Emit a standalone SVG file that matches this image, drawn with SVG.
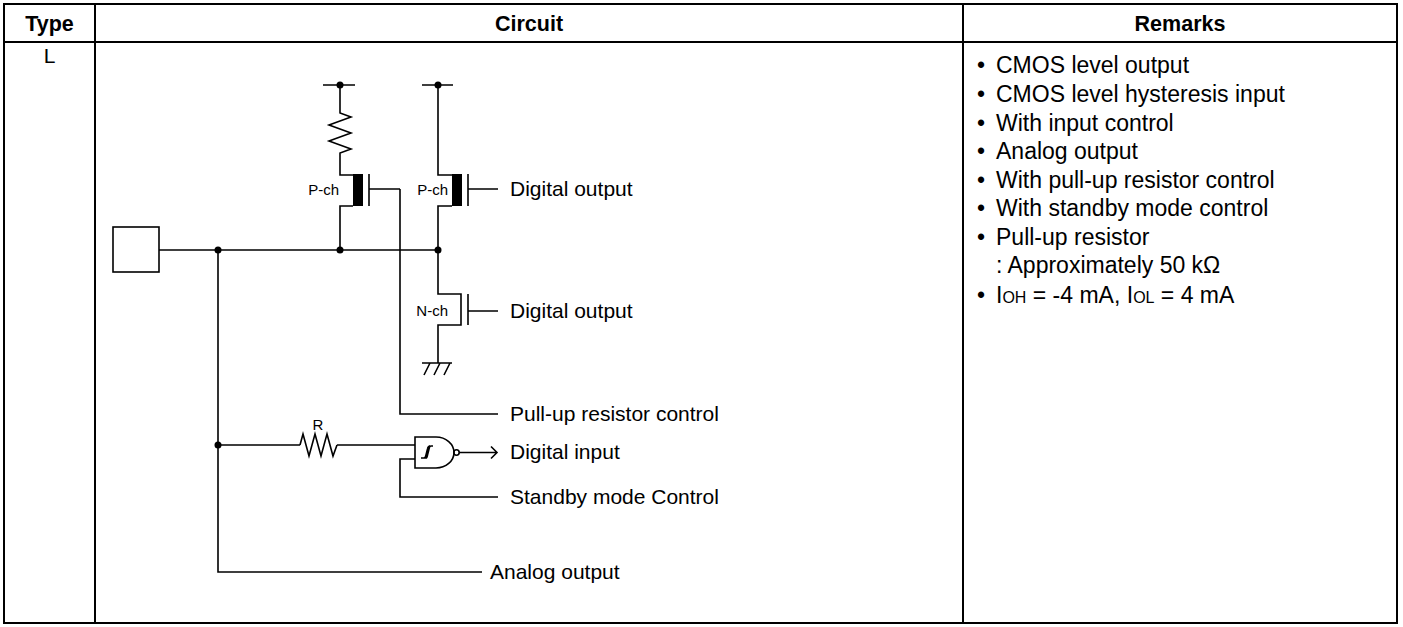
<svg xmlns="http://www.w3.org/2000/svg" width="1403" height="627" viewBox="0 0 1403 627">
<style>
.tb{fill:none;stroke:#000;stroke-width:2}
.w{fill:none;stroke:#000;stroke-width:1.6;stroke-linejoin:miter}
.d{fill:#000}
.h{font-family:"Liberation Sans",Arial,sans-serif;font-weight:bold;font-size:21.5px;fill:#000;text-anchor:middle}
.t{font-family:"Liberation Sans",Arial,sans-serif;font-size:21px;fill:#000}
.s{font-family:"Liberation Sans",Arial,sans-serif;font-size:15px;fill:#000}
.r{font-family:"Liberation Sans",Arial,sans-serif;font-size:23px;fill:#000}
.sub{font-size:16px}
</style>
<rect width="1403" height="627" fill="#fff"/>
<g id="table">
<rect class="tb" x="4" y="4" width="1393" height="619"/>
<line class="tb" x1="4" y1="42" x2="1397" y2="42"/>
<line class="tb" x1="95" y1="4" x2="95" y2="623"/>
<line class="tb" x1="963" y1="4" x2="963" y2="623"/>
<text class="h" x="49.5" y="31">Type</text>
<text class="h" x="529" y="31">Circuit</text>
<text class="h" x="1180" y="31">Remarks</text>
<text class="t" x="49.5" y="63" text-anchor="middle">L</text>
</g>
<g id="pin">
<rect class="w" x="113" y="227" width="46" height="45"/>
</g>
<g id="pullup-resistor">
<path class="w" d="M323,85 H355 M340,85 V113 L351,117 L329,125 L351,133 L329,141 L351,149 L340,153 V175 H353"/>
<circle class="d" cx="340" cy="85" r="3.5"/>
</g>
<g id="pch-pullup">
<rect class="d" x="353" y="174" width="10" height="32"/>
<path class="w" d="M353,206 H340 V250 M369,174 V206 M369,189 H400"/>
<text class="s" x="339" y="195" text-anchor="end">P-ch</text>
</g>
<g id="pch-out">
<path class="w" d="M422,85 H453 M438,85 V175 H452 M452,206 H438 V250 M468,174 V206 M468,189 H498"/>
<rect class="d" x="452" y="174" width="10" height="32"/>
<circle class="d" cx="438" cy="85" r="3.5"/>
<text class="s" x="448" y="195" text-anchor="end">P-ch</text>
<text class="t" x="510" y="196">Digital output</text>
</g>
<g id="nch-out">
<path class="w" d="M438,250 V294 H461 V325 H438 V363 M468,294 V325 M468,311 H498"/>
<text class="s" x="448" y="316" text-anchor="end">N-ch</text>
<text class="t" x="510" y="318">Digital output</text>
</g>
<g id="ground">
<path class="w" d="M422,363 H452 M430,363 L424,375 M440,363 L434,375 M450,363 L444,375"/>
</g>
<g id="resistor-r">
<path class="w" d="M300,445 L303,434 L309,456 L315,434 L321,456 L327,434 L333,456 L337,445"/>
<text class="s" x="318" y="430" text-anchor="middle">R</text>
</g>
<g id="nand-gate">
<path class="w" d="M415,437 H436 A18,15.5 0 0 1 436,468 H415 Z"/>
<circle class="w" cx="456.5" cy="452.5" r="2.7"/>
<path class="w" stroke-width="1.2" d="M421,458 H426 Q427,458 427.5,455 L429,449 Q429.5,446 431,446 H433 M424,458 Q425.5,458 426,455 L427.5,449 Q428,446 430,446"/>
<text class="t" x="510" y="459">Digital input</text>
</g>
<g id="labels">
<text class="t" x="510" y="421">Pull-up resistor control</text>
<text class="t" x="510" y="504">Standby mode Control</text>
<text class="t" x="490" y="579">Analog output</text>
</g>
<g id="connectors">
<path class="w" d="M159,250 H438"/>
<path class="w" d="M218,250 V572 H482"/>
<path class="w" d="M400,189 V414 H498"/>
<path class="w" d="M218,445 H300 M337,445 H415"/>
<path class="w" d="M415,459 H400 V497 H498"/>
<path class="w" d="M459.2,452.5 H497 M491,446.5 L497,452.5 L491,458.5"/>
<circle class="d" cx="218" cy="250" r="3.5"/>
<circle class="d" cx="340" cy="250" r="3.5"/>
<circle class="d" cx="438" cy="250" r="3.5"/>
<circle class="d" cx="218" cy="445" r="3.5"/>
</g>
<g id="remarks">
<text class="r" x="977" y="73">•</text><text class="r" x="996" y="73">CMOS level output</text>
<text class="r" x="977" y="102">•</text><text class="r" x="996" y="102">CMOS level hysteresis input</text>
<text class="r" x="977" y="131">•</text><text class="r" x="996" y="131">With input control</text>
<text class="r" x="977" y="159">•</text><text class="r" x="996" y="159">Analog output</text>
<text class="r" x="977" y="188">•</text><text class="r" x="996" y="188">With pull-up resistor control</text>
<text class="r" x="977" y="216">•</text><text class="r" x="996" y="216">With standby mode control</text>
<text class="r" x="977" y="245">•</text><text class="r" x="996" y="245">Pull-up resistor</text>
<text class="r" x="996" y="273">: Approximately 50 kΩ</text>
<text class="r" x="977" y="303">•</text><text class="r" x="996" y="303">I<tspan class="sub">OH</tspan> = -4 mA, I<tspan class="sub">OL</tspan> = 4 mA</text>
</g>
</svg>
